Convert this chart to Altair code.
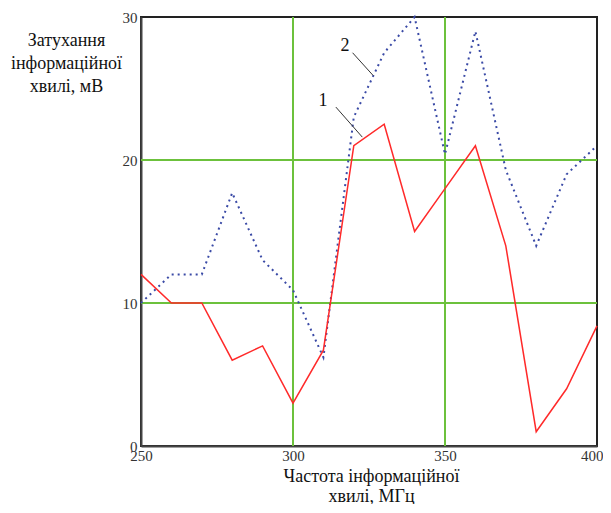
import altair as alt
import pandas as pd

# ---- data ----
freq = [250, 260, 270, 280, 290, 300, 310, 320, 330, 340, 350, 360, 370, 380, 390, 400]
curve1 = [12, 10, 10, 6, 7, 3, 6.7, 21, 22.5, 15, 18, 21, 14, 1, 4, 8.4]
curve2 = [10, 12, 12, 17.7, 13, 10.9, 6.2, 23, 27.5, 30, 20.4, 29, 19.3, 14, 19, 21]

x_ticks = [250, 300, 350, 400]
y_ticks = [0, 10, 20, 30]
grid_x = [300, 350]
grid_y = [10, 20]

label_text = ["1", "2"]
label_x = [309.9, 317.1]
label_y = [24.1, 28.0]
leader_x = [314.1, 319.6]
leader_x2 = [322.8, 326.4]
leader_y = [23.7, 27.5]
leader_y2 = [21.6, 25.9]

x_title = ["Частота інформаційної", "хвилі, МГц"]
y_title = ["Затухання", "інформаційної", "хвилі, мВ"]

SERIF = "Liberation Serif"

df1 = pd.DataFrame({"f": freq, "v": curve1})
df2 = pd.DataFrame({"f": freq, "v": curve2})
gx = pd.DataFrame({"f": grid_x})
gy = pd.DataFrame({"v": grid_y})
lab = pd.DataFrame({"f": label_x, "v": label_y, "t": label_text})
lead = pd.DataFrame({"f": leader_x, "f2": leader_x2, "v": leader_y, "v2": leader_y2})

xscale = alt.Scale(domain=[250, 400], nice=False, zero=False)
yscale = alt.Scale(domain=[0, 30], nice=False, zero=True)

last_x = "datum.value == 400"

xaxis = alt.Axis(
    values=x_ticks, title=x_title, grid=False, ticks=False,
    domainColor="#444", domainWidth=2, labelFlush=False,
    labelAlign={"condition": {"test": last_x, "value": "right"}, "value": "center"},
    labelOffset={"condition": {"test": last_x, "value": 6}, "value": 0},
    labelFont=SERIF, labelFontSize=15, labelColor="#333", labelPadding=2,
    titleFont=SERIF, titleFontSize=18, titleFontWeight="normal", titleColor="#111",
    titleLineHeight=20, titleBaseline="top", titleAlign="center", titleX=230, titleY=21,
)
yaxis = alt.Axis(
    values=y_ticks, title=y_title, grid=False, ticks=False,
    domainColor="#444", domainWidth=2, labelFlush=False,
    labelFont=SERIF, labelFontSize=15, labelColor="#333", labelPadding=4,
    titleFont=SERIF, titleFontSize=18, titleFontWeight="normal", titleColor="#111",
    titleLineHeight=23, titleAngle=0, titleAlign="center", titleBaseline="top",
    titleX=-75, titleY=14,
)

X = alt.X("f:Q", scale=xscale, axis=xaxis)
Y = alt.Y("v:Q", scale=yscale, axis=yaxis)

green = "#6cc13c"

vgrid = alt.Chart(gx).mark_rule(color=green, strokeWidth=2).encode(x=X)
hgrid = alt.Chart(gy).mark_rule(color=green, strokeWidth=2).encode(y=Y)

line2 = alt.Chart(df2).mark_line(
    color="#3a4aa6", strokeWidth=2, strokeDash=[2, 4]
).encode(x=X, y=Y)
line1 = alt.Chart(df1).mark_line(color="#ff2a2a", strokeWidth=1.5).encode(x=X, y=Y)

leaders = alt.Chart(lead).mark_rule(color="#333", strokeWidth=1).encode(
    x=X, x2="f2:Q", y=Y, y2="v2:Q"
)
labels = alt.Chart(lab).mark_text(
    font=SERIF, fontSize=18, color="#111", align="center", baseline="middle"
).encode(x=X, y=Y, text="t:N")

chart = alt.layer(vgrid, hgrid, line2, line1, leaders, labels).properties(
    width=456, height=429,
    autosize=alt.AutoSizeParams(type="none"),
    padding={"left": 133, "top": 9, "right": 6, "bottom": 58},
).configure_view(stroke="#222", strokeWidth=2)

chart.save("out.html", embed_options={"renderer": "svg", "actions": False})
